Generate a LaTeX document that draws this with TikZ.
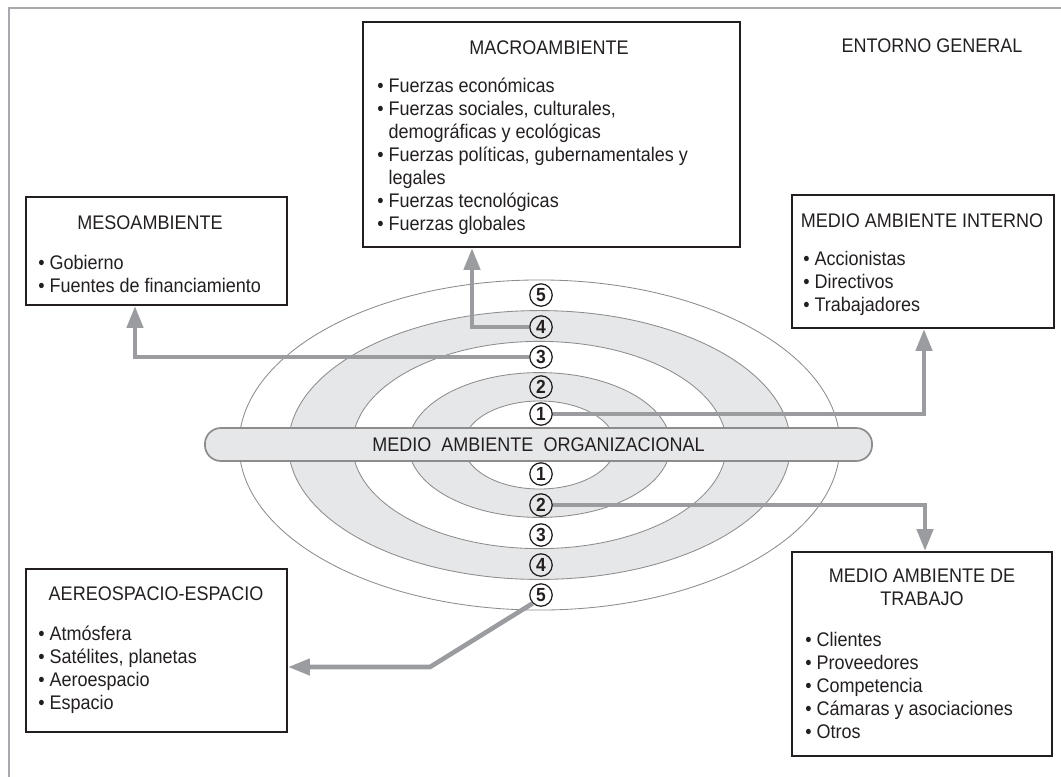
\documentclass[tikz,border=0pt]{standalone}
\usepackage{fontspec}
\setmainfont{Liberation Sans}[FakeStretch=0.915]
\usetikzlibrary{arrows.meta,fit}
\definecolor{ringline}{HTML}{8C8C8C}
\definecolor{ringfill}{HTML}{E6E7E8}
\definecolor{linkgray}{HTML}{9A9C9F}
\definecolor{framegray}{HTML}{A7A9AC}
\definecolor{inkblack}{HTML}{231F20}
\tikzset{
  envbox/.style={draw=inkblack, line width=1.4pt, inner sep=0pt},
  boxtitle/.style={anchor=base, inner sep=0pt, text=inkblack},
  boxlist/.style={anchor=base west, align=left, inner sep=0pt, text=inkblack},
  ring/.style={draw=ringline, line width=0.6pt},
  orgbar/.style={draw=ringline, line width=1.2pt, fill=ringfill, rounded corners=0.4cm,
    minimum width=16.675cm, minimum height=0.825cm, inner sep=0pt, text=inkblack},
  ringnum/.style={circle, draw=inkblack, line width=0.9pt, minimum size=0.56cm, inner sep=0pt,
    font=\fontsize{13.5pt}{15pt}\selectfont\bfseries, text=inkblack},
  link/.style={draw=linkgray, line width=3.3pt, -{Triangle[length=0.55cm,width=0.4cm]}}
}
\begin{document}
\begin{tikzpicture}[x=0.025cm, y=-0.025cm, font=\fontsize{14pt}{16.3pt}\selectfont]
\useasboundingbox (0,0) rectangle (1061,777);
% marco
\draw[framegray, line width=1.5pt] (1080,8) -- (9,8) -- (9,800);

% anillos
\draw[ring, fill=white] (539.5,445) ellipse [x radius=7.51cm, y radius=4.125cm];
\draw[ring, fill=ringfill] (539.5,445) ellipse [x radius=6.275cm, y radius=3.36cm];
\draw[ring, fill=white] (539.5,445) ellipse [x radius=4.675cm, y radius=2.59cm];
\draw[ring, fill=ringfill] (539.5,445) ellipse [x radius=3.275cm, y radius=1.81cm];
\draw[ring, fill=white] (539.5,445) ellipse [x radius=1.9cm, y radius=1.1cm];

\node[orgbar] (org) at (538.5,444.5) {MEDIO\ \ AMBIENTE\ \ ORGANIZACIONAL};

\node[ringnum] (t5) at (541,295) {5};
\node[ringnum] (t4) at (541,327) {4};
\node[ringnum] (t3) at (541,357) {3};
\node[ringnum] (t2) at (541,387) {2};
\node[ringnum] (t1) at (541,414) {1};
\node[ringnum] (b1) at (541,474) {1};
\node[ringnum] (b2) at (541,505) {2};
\node[ringnum] (b3) at (541,535) {3};
\node[ringnum] (b4) at (541,565) {4};
\node[ringnum] (b5) at (541,595) {5};

% cajas
\node[envbox, fit={(363,22) (740,247)}] (macro) {};
\node[envbox, fit={(26,197) (287,305)}] (meso) {};
\node[envbox, fit={(792,195) (1054,328)}] (interno) {};
\node[envbox, fit={(792,552) (1052,756)}] (trabajo) {};
\node[envbox, fit={(26,569) (287,732)}] (aereo) {};

\node[boxtitle] (entorno) at (932,52) {ENTORNO GENERAL};

% listas: el ancla base es la ultima linea
\node[boxtitle] (macrotitle) at (549,54) {MACROAMBIENTE};
\node[boxlist] (macrolist) at (377,230) {\textbullet\ Fuerzas económicas\\
  \textbullet\ Fuerzas sociales, culturales,\\
  \hphantom{\textbullet\ }demográficas y ecológicas\\
  \textbullet\ Fuerzas políticas, gubernamentales y\\
  \hphantom{\textbullet\ }legales\\
  \textbullet\ Fuerzas tecnológicas\\
  \textbullet\ Fuerzas globales};

\node[boxtitle] (mesotitle) at (150,229) {MESOAMBIENTE};
\node[boxlist] (mesolist) at (38,292) {\textbullet\ Gobierno\\
  \textbullet\ Fuentes de financiamiento};

\node[boxtitle] (internotitle) at (922,227) {MEDIO AMBIENTE INTERNO};
\node[boxlist] (internolist) at (803,311) {\textbullet\ Accionistas\\
  \textbullet\ Directivos\\
  \textbullet\ Trabajadores};

\node[boxtitle, align=center] (trabajotitle) at (922,605) {MEDIO AMBIENTE DE\\TRABAJO};
\node[boxlist] (trabajolist) at (805,738) {\textbullet\ Clientes\\
  \textbullet\ Proveedores\\
  \textbullet\ Competencia\\
  \textbullet\ Cámaras y asociaciones\\
  \textbullet\ Otros};

\node[boxtitle] (aereotitle) at (156,600) {AEREOSPACIO-ESPACIO};
\node[boxlist] (aereolist) at (38,709) {\textbullet\ Atmósfera\\
  \textbullet\ Satélites, planetas\\
  \textbullet\ Aeroespacio\\
  \textbullet\ Espacio};

% flechas
\draw[link] (t4.west) -| (macro.south -| 472,0);
\draw[link] (t3.west) -| (meso.south -| 135,0);
\draw[link] (t1.east) -| (interno.south -| 924,0);
\draw[link] (b2.east) -| (trabajo.north -| 925,0);
\coordinate (knee) at (430,667);
\draw[link] (b5.south west) -- (knee) -- (aereo.east |- knee);
\end{tikzpicture}
\end{document}
